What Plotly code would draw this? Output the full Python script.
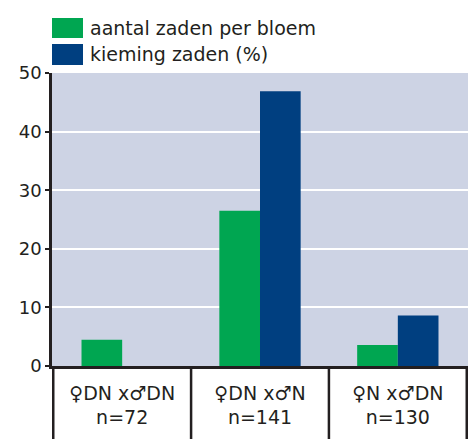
import plotly.graph_objects as go

categories = ["♀DN x♂DN<br>n=72", "♀DN x♂N<br>n=141", "♀N x♂DN<br>n=130"]
series_names = ["aantal zaden per bloem", "kieming zaden (%)"]
seeds_per_flower = [4.5, 26.5, 3.6]
germination_pct = [None, 46.9, 8.6]
y_ticks = [0, 10, 20, 30, 40, 50]

GREEN = "#00a651"
BLUE = "#003f80"
BG = "#cdd3e4"
INK = "#231f20"
FONT = "DejaVu Sans"

W, H = 473, 439
ML, MR, MT, MB = 52, 5, 73, 73
PW = W - ML - MR
PH = H - MT - MB

fig = go.Figure()
fig.add_trace(go.Bar(x=categories, y=seeds_per_flower, name=series_names[0],
                     marker=dict(color=GREEN, line=dict(width=0))))
fig.add_trace(go.Bar(x=categories, y=germination_pct, name=series_names[1],
                     marker=dict(color=BLUE, line=dict(width=0))))

shapes = []
for i in range(len(categories) + 1):
    shapes.append(dict(type="line", xref="x", yref="paper", x0=i - 0.5, x1=i - 0.5,
                       y0=0, y1=-MB / PH - 0.01, line=dict(color=INK, width=2.5), layer="above"))

def px_x(px):
    return (px - ML) / PW

def px_y(py):
    return (H - MB - py) / PH

annotations = []
swatches = [(GREEN, 18, 38, 28), (BLUE, 44, 65, 54)]
for (col, ytop, ybot, yc), name in zip(swatches, series_names):
    shapes.append(dict(type="rect", xref="paper", yref="paper",
                       x0=px_x(52), x1=px_x(83), y0=px_y(ybot), y1=px_y(ytop),
                       fillcolor=col, line=dict(width=0)))
    annotations.append(dict(xref="paper", yref="paper", x=px_x(88), y=px_y(yc),
                            text=name, showarrow=False, xanchor="left", yanchor="middle",
                            font=dict(family=FONT, size=19, color=INK)))

fig.update_layout(
    width=W, height=H,
    margin=dict(l=ML, r=MR, t=MT, b=MB, autoexpand=False),
    paper_bgcolor="white",
    plot_bgcolor=BG,
    barmode="group",
    bargap=0.41,
    bargroupgap=0,
    showlegend=False,
    shapes=shapes,
    annotations=annotations,
    font=dict(family=FONT, color=INK),
    xaxis=dict(showgrid=False, showline=True, linecolor=INK, linewidth=2.5,
               ticks="", tickfont=dict(size=19, family=FONT, color=INK),
               ticklabelstandoff=8, automargin=False),
    yaxis=dict(range=[0, 50], tickvals=y_ticks, showgrid=True, gridcolor="white",
               gridwidth=2, zeroline=False, showline=True, linecolor=INK, linewidth=2.5,
               ticks="outside", ticklen=4, tickcolor=INK, tickwidth=2, automargin=False,
               tickfont=dict(size=18, family=FONT, color=INK)),
)

fig.write_html("out.html", config={"responsive": False, "displayModeBar": False},
               post_script="document.body.style.margin='0';document.body.style.overflow='hidden';")
